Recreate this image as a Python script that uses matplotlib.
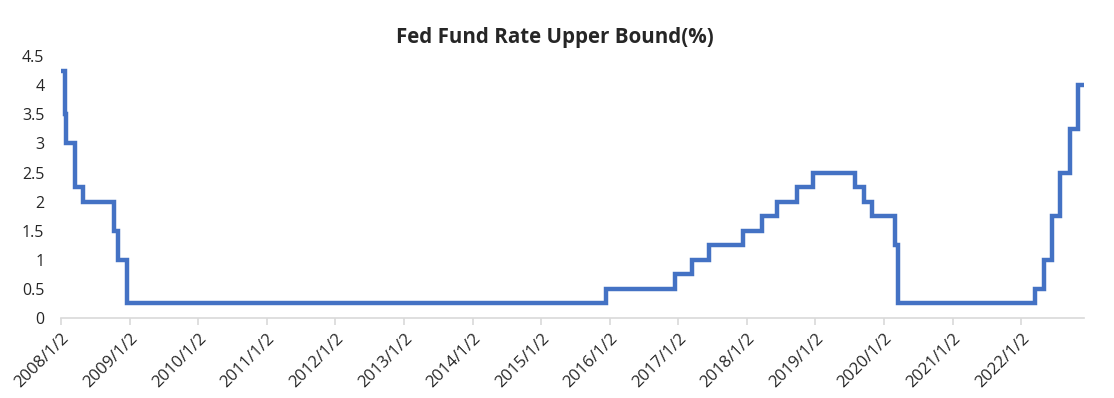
import matplotlib.pyplot as plt
import pandas as pd

# Fed funds target upper bound, change dates (step data)
change_dates = ['2008-01-02', '2008-01-22', '2008-01-30', '2008-03-18', '2008-04-30',
                '2008-10-08', '2008-10-29', '2008-12-16', '2015-12-16', '2016-12-14',
                '2017-03-15', '2017-06-14', '2017-12-13', '2018-03-21', '2018-06-13',
                '2018-09-26', '2018-12-19', '2019-07-31', '2019-09-18', '2019-10-30',
                '2020-03-03', '2020-03-15', '2022-03-16', '2022-05-04', '2022-06-15',
                '2022-07-27', '2022-09-21', '2022-11-02', '2022-12-01']
upper_bound = [4.25, 3.5, 3.0, 2.25, 2.0,
               1.5, 1.0, 0.25, 0.5, 0.75,
               1.0, 1.25, 1.5, 1.75, 2.0,
               2.25, 2.5, 2.25, 2.0, 1.75,
               1.25, 0.25, 0.5, 1.0, 1.75,
               2.5, 3.25, 4.0, 4.0]
tick_years = list(range(2008, 2023))
y_ticks = [0, 0.5, 1, 1.5, 2, 2.5, 3, 3.5, 4, 4.5]

plt.rcParams['font.family'] = ['Open Sans', 'DejaVu Sans']

dates = pd.to_datetime(change_dates)

fig = plt.figure(figsize=(11.14, 3.98), dpi=100)
ax = fig.add_axes([0.0548, 0.201, 0.918, 0.658])
ax.step(dates, upper_bound, where='post', color='#4472C4', linewidth=3.2, solid_joinstyle='miter')

ax.set_ylim(0, 4.5)
ax.set_xlim(dates[0], dates[-1])
ax.set_yticks(y_ticks)
ax.set_yticklabels([f'{v:g}' for v in y_ticks], fontsize=11.5, color='#262626')

tick_dates = pd.to_datetime([f'{y}-01-02' for y in tick_years])
ax.set_xticks(tick_dates)
ax.set_xticklabels([f'{y}/1/2' for y in tick_years], rotation=45, ha='right',
                   rotation_mode='anchor', fontsize=12, color='#262626')

for side in ['top', 'right', 'left']:
    ax.spines[side].set_visible(False)
ax.spines['bottom'].set_color('#D9D9D9')
ax.spines['bottom'].set_linewidth(1.2)
ax.tick_params(axis='x', direction='out', length=5, color='#D9D9D9', width=1.2, pad=4)
ax.tick_params(axis='y', length=0, pad=12)

fig.text(0.498, 0.905, 'Fed Fund Rate Upper Bound(%)', ha='center', va='center',
         fontsize=14.8, fontweight='bold', color='#262626')

fig.savefig('out.png', dpi=100)
